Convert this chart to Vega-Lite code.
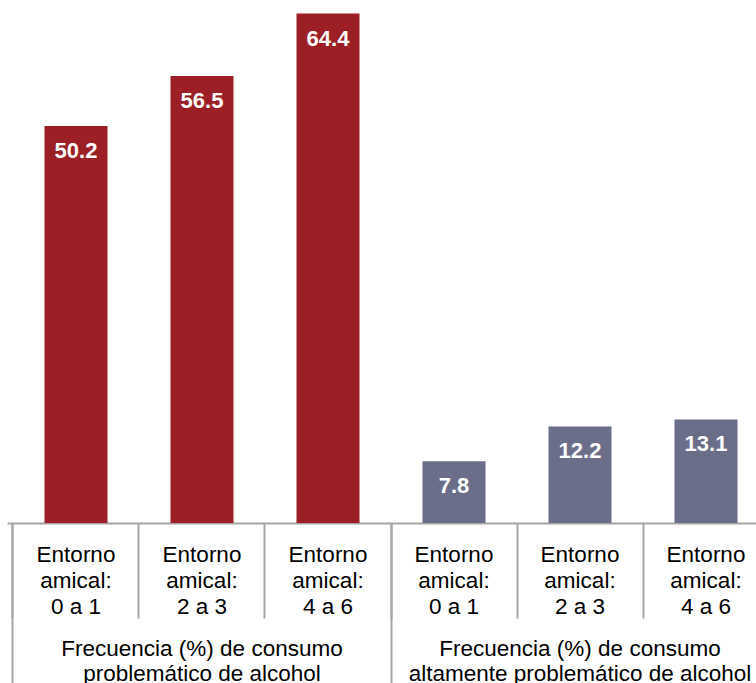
{
  "$schema": "https://vega.github.io/schema/vega-lite/v6.json",
  "width": 749,
  "height": 523,
  "autosize": {"type": "none"},
  "padding": {"left": 7, "top": 0, "right": 0, "bottom": 160},
  "background": "white",
  "config": {
    "view": {"stroke": null},
    "font": "Liberation Sans",
    "axis": {"labelFont": "Liberation Sans", "titleFont": "Liberation Sans"}
  },
  "data": {
    "values": [
      {"cat": "Frecuencia (%) de consumo~problemático de alcohol|Entorno~amical:~0 a 1", "grupo": "problemático", "valor": 50.2},
      {"cat": "Frecuencia (%) de consumo~problemático de alcohol|Entorno~amical:~2 a 3", "grupo": "problemático", "valor": 56.5},
      {"cat": "Frecuencia (%) de consumo~problemático de alcohol|Entorno~amical:~4 a 6", "grupo": "problemático", "valor": 64.4},
      {"cat": "Frecuencia (%) de consumo~altamente problemático de alcohol|Entorno~amical:~0 a 1", "grupo": "altamente problemático", "valor": 7.8},
      {"cat": "Frecuencia (%) de consumo~altamente problemático de alcohol|Entorno~amical:~2 a 3", "grupo": "altamente problemático", "valor": 12.2},
      {"cat": "Frecuencia (%) de consumo~altamente problemático de alcohol|Entorno~amical:~4 a 6", "grupo": "altamente problemático", "valor": 13.1}
    ]
  },
  "resolve": {"axis": {"x": "independent"}},
  "layer": [
    {
      "mark": {"type": "bar", "width": {"band": 0.5}},
      "encoding": {
        "x": {
          "field": "cat",
          "type": "nominal",
          "sort": null,
          "scale": {"range": [0, 768], "paddingInner": 0, "paddingOuter": 0.047619},
          "axis": {
            "orient": "bottom",
            "title": null,
            "bandPosition": 0,
            "domain": true,
            "domainColor": "#A6A6A6",
            "domainWidth": 2,
            "ticks": true,
            "tickColor": "#A6A6A6",
            "tickWidth": 2,
            "tickSize": 95,
            "labelOffset": 0,
            "labelPadding": -74.5,
            "labelAngle": 0,
            "labelAlign": "center",
            "labelBaseline": "top",
            "labelFontSize": 22.5,
            "labelLineHeight": 26,
            "labelColor": "#000000",
            "labelOverlap": false,
            "labelBound": false,
            "labelFlush": false,
            "labelLimit": 0,
            "labelExpr": "split(split(datum.value, '|')[1], '~')"
          }
        },
        "y": {
          "field": "valor",
          "type": "quantitative",
          "scale": {"domain": [0, 66.12], "nice": false, "zero": true},
          "axis": null
        },
        "color": {
          "field": "grupo",
          "type": "nominal",
          "scale": {"domain": ["problemático", "altamente problemático"], "range": ["#9B1F24", "#6B6E89"]},
          "legend": null
        }
      }
    },
    {
      "mark": {"type": "text", "baseline": "alphabetic", "align": "center", "dy": 32, "fontSize": 22, "fontWeight": "bold", "color": "#FFFFFF", "font": "Liberation Sans"},
      "encoding": {
        "x": {
          "field": "cat",
          "type": "nominal",
          "sort": null,
          "axis": {
            "orient": "bottom",
            "title": null,
            "bandPosition": 0,
            "domain": false,
            "ticks": true,
            "tickColor": "#A6A6A6",
            "tickWidth": 2,
            "tickSize": 160,
            "tickOpacity": {"condition": {"test": "indexof(datum.value, '0 a 1') >= 0", "value": 1}, "value": 0},
            "labelOffset": 126,
            "labelPadding": -45.3,
            "labelAngle": 0,
            "labelAlign": "center",
            "labelBaseline": "top",
            "labelFontSize": 22.5,
            "labelLineHeight": 25,
            "labelColor": "#000000",
            "labelOverlap": false,
            "labelBound": false,
            "labelFlush": false,
            "labelLimit": 0,
            "labelExpr": "indexof(datum.value, '0 a 1') >= 0 ? split(split(datum.value, '|')[0], '~') : ''"
          }
        },
        "y": {"field": "valor", "type": "quantitative", "axis": null},
        "text": {"field": "valor", "type": "quantitative", "format": ".1f"}
      }
    }
  ]
}
